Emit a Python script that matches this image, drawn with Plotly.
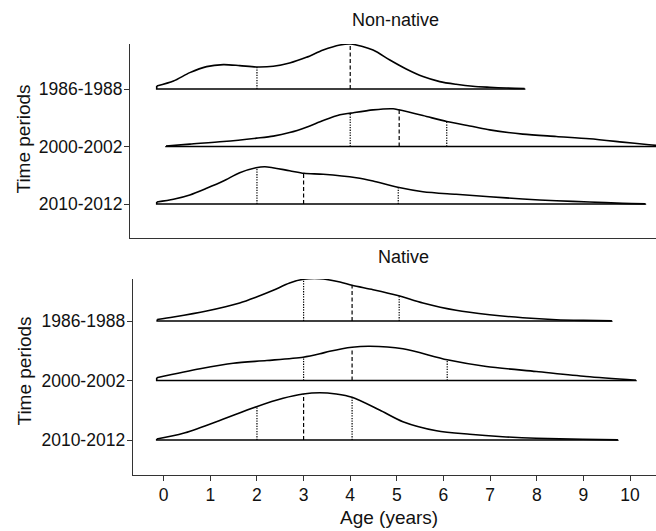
import numpy as np
import plotly.graph_objects as go

W, H = 656, 531

periods = ["1986-1988", "2000-2002", "2010-2012"]
row_pos = [3, 2, 1]
age_ticks = list(range(0, 11))

# ---- Non-native: density outlines (x = age in years, h = scaled density height) ----
nn86_x = [-0.15, 0.21, 0.56, 0.92, 1.28, 1.63, 1.99, 2.35, 2.70, 3.06, 3.42, 3.78, 4.01, 4.49,
          4.85, 5.20, 5.56, 5.92, 6.27, 6.63, 6.99, 7.35, 7.74]
nn86_h = [0.052, 0.139, 0.285, 0.390, 0.424, 0.407, 0.383, 0.395, 0.452, 0.551, 0.678, 0.765,
          0.783, 0.678, 0.504, 0.348, 0.216, 0.129, 0.082, 0.047, 0.030, 0.017, 0.010]
nn00_x = [0.05, 0.56, 1.28, 1.99, 2.35, 2.70, 3.06, 3.42, 3.78, 4.01, 4.49, 4.92, 5.04, 5.56,
          6.07, 6.63, 6.99, 7.70, 8.42, 9.13, 9.84, 10.41, 10.70]
nn00_h = [0.009, 0.042, 0.087, 0.146, 0.181, 0.243, 0.337, 0.452, 0.551, 0.581, 0.638, 0.656,
          0.638, 0.539, 0.435, 0.348, 0.290, 0.216, 0.174, 0.134, 0.077, 0.030, 0.010]
nn10_x = [-0.15, 0.21, 0.56, 0.92, 1.28, 1.63, 1.98, 2.17, 2.70, 3.01, 3.42, 4.13, 4.49, 5.02,
          5.56, 6.27, 6.99, 7.70, 8.42, 9.13, 9.84, 10.33]
nn10_h = [0.035, 0.082, 0.157, 0.273, 0.400, 0.544, 0.631, 0.649, 0.579, 0.534, 0.517, 0.457,
          0.400, 0.290, 0.214, 0.169, 0.127, 0.087, 0.057, 0.035, 0.012, 0.003]
nn86_q = [2.0, 4.0, 4.0]
nn00_q = [4.0, 5.05, 6.07]
nn10_q = [2.0, 3.0, 5.03]

# ---- Native ----
na86_x = [-0.14, 0.21, 0.92, 1.63, 1.99, 2.35, 2.70, 3.00, 3.35, 3.78, 4.04, 4.49, 5.02, 5.56,
          6.27, 6.99, 7.70, 8.42, 9.00, 9.61]
na86_h = [0.025, 0.067, 0.168, 0.303, 0.403, 0.516, 0.639, 0.701, 0.711, 0.655, 0.600, 0.526,
          0.429, 0.303, 0.180, 0.106, 0.055, 0.022, 0.010, 0.003]
na00_x = [-0.15, 0.78, 1.49, 2.21, 2.99, 3.35, 3.56, 4.04, 4.42, 5.13, 6.08, 6.92, 7.99, 9.06,
          10.13]
na00_h = [0.045, 0.197, 0.291, 0.336, 0.392, 0.449, 0.492, 0.560, 0.576, 0.533, 0.348, 0.235,
          0.151, 0.067, 0.005]
na10_x = [-0.15, 0.42, 1.13, 1.99, 2.56, 2.99, 3.35, 3.70, 4.04, 4.63, 5.13, 5.85, 6.56, 7.27,
          7.99, 8.99, 9.74]
na10_h = [0.017, 0.113, 0.308, 0.560, 0.701, 0.773, 0.795, 0.773, 0.718, 0.504, 0.308, 0.156,
          0.096, 0.055, 0.029, 0.012, 0.003]
na86_q = [3.0, 4.04, 5.05]
na00_q = [3.0, 4.04, 6.08]
na10_q = [2.0, 3.0, 4.04]

panels = [
    ("Non-native", "x", "y", [(nn86_x, nn86_h, nn86_q), (nn00_x, nn00_h, nn00_q), (nn10_x, nn10_h, nn10_q)]),
    ("Native", "x2", "y2", [(na86_x, na86_h, na86_q), (na00_x, na00_h, na00_q), (na10_x, na10_h, na10_q)]),
]

FONT = "Liberation Sans, Arial, sans-serif"
INK = "#111111"

fig = go.Figure()
q_styles = ["1.3px,1.3px", "4px,2.5px", "1.3px,1.3px"]

for title, xa, ya, rows in panels:
    for (xs, hs, qs), r in zip(rows, row_pos):
        xs = np.array(xs)
        hs = np.array(hs)
        # baseline with end stubs
        fig.add_trace(go.Scatter(
            x=[xs[0], xs[0], xs[-1], xs[-1]], y=[r + hs[0], r, r, r + hs[-1]],
            mode="lines", line=dict(color="black", width=1.6),
            xaxis=xa, yaxis=ya, showlegend=False, hoverinfo="skip"))
        # density outline
        fig.add_trace(go.Scatter(
            x=xs, y=r + hs, mode="lines",
            line=dict(color="black", width=1.6, shape="spline", smoothing=0.8),
            xaxis=xa, yaxis=ya, showlegend=False, hoverinfo="skip"))
        # quantile lines
        for i, q in enumerate(qs):
            if i == 2 and abs(q - qs[1]) < 1e-9:
                continue
            qh = float(np.interp(q, xs, hs))
            fig.add_trace(go.Scatter(
                x=[q, q], y=[r, r + qh], mode="lines",
                line=dict(color="black", width=1.2, dash=q_styles[i]),
                xaxis=xa, yaxis=ya, showlegend=False, hoverinfo="skip"))

px_per_year = 46.63
x0_px = 163.7

def xr(left_px):
    return [(left_px - x0_px) / px_per_year, (W - x0_px) / px_per_year]

axis_common = dict(showgrid=False, zeroline=False, showline=True, linecolor="#333333",
                   linewidth=1.1, tickcolor="#333333", tickwidth=1.1,
                   tickfont=dict(family=FONT, size=17.5, color=INK))

fig.update_layout(
    width=W, height=H, margin=dict(l=0, r=0, t=0, b=0),
    paper_bgcolor="white", plot_bgcolor="white",
    xaxis=dict(domain=[130 / W, 1], range=xr(130), anchor="y", showticklabels=False,
               ticks="", **{k: v for k, v in axis_common.items() if k != "tickfont"}),
    yaxis=dict(domain=[1 - 238 / H, 1 - 44 / H], range=[0.409, 3.783], anchor="x",
               tickmode="array", tickvals=row_pos, ticktext=periods, ticks="outside",
               ticklen=5, ticklabelstandoff=-2, **axis_common),
    xaxis2=dict(domain=[132.7 / W, 1], range=xr(132.7), anchor="y2",
                tickmode="array", tickvals=age_ticks, ticktext=[str(t) for t in age_ticks],
                ticks="outside", ticklen=5, ticklabelstandoff=-1, **axis_common),
    yaxis2=dict(domain=[1 - 475 / H, 1 - 279 / H], range=[0.412, 3.706], anchor="x2",
                tickmode="array", tickvals=row_pos, ticktext=periods, ticks="outside",
                ticklen=5, ticklabelstandoff=-2, **axis_common),
)

def ann(text, xpx, ypx, size, angle=0):
    fig.add_annotation(text=text, x=xpx / W, y=1 - ypx / H, xref="paper", yref="paper",
                       xanchor="center", yanchor="middle", showarrow=False, textangle=angle,
                       font=dict(family=FONT, size=size, color=INK))

ann("Non-native", 395.5, 19.5, 18)
ann("Native", 403.8, 256.5, 18)
ann("Time periods", 23, 139.5, 19, -90)
ann("Time periods", 24, 371.5, 19, -90)
ann("Age (years)", 388.8, 517, 19)

fig.write_html("out.html")
